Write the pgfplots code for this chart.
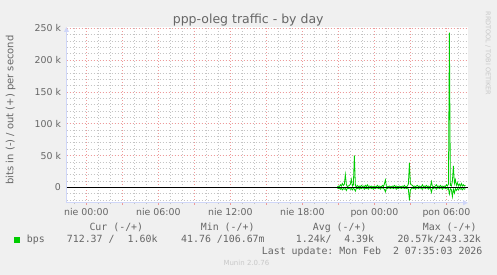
\documentclass[border=0pt]{standalone}
\usepackage{fontspec}
\setmainfont{DejaVu Sans}
\setmonofont{DejaVu Sans Mono}
\usepackage{pgfplots}
\usepackage{pgfplotstable}
\pgfplotsset{compat=1.18}
\usetikzlibrary{arrows.meta}
\definecolor{bg}{HTML}{F0F0F0}
\definecolor{fontc}{HTML}{666666}
\definecolor{axc}{HTML}{CFD6F8}
\definecolor{mgrid}{HTML}{EE9A9A}
\definecolor{gridc}{HTML}{C4C4C4}
\definecolor{munin}{HTML}{00CC00}
\definecolor{rrdc}{HTML}{C8C8C8}

% t (hours since Sunday 00:00), out (k bit/s), in (k bit/s, drawn negative)
\pgfplotstableread{
t out in
20.92 0.5 -1
21.00 2 -2
21.08 1 -1
21.17 4 -3
21.25 2 -1
21.33 6 -4
21.42 3 -2
21.50 5 -3
21.58 20 -2
21.67 4 -5
21.75 1 -1
21.83 2 -2
21.92 3 -1
22.00 5 -3
22.08 12.5 -2
22.17 2 -4
22.25 4 -1
22.33 50 -3
22.42 2 -6
22.50 1 -1
22.58 3 -2
22.67 1 -1
22.75 2 -3
22.83 1 -1
22.92 3 -2
23.00 1 -1
23.08 2 -1
23.17 1 -3
23.25 3 -1
23.33 1 -2
23.42 4 -1
23.50 1 -3
23.58 2 -1
23.67 1 -1
23.75 2 -2
23.83 1 -1
23.92 1 -3
24.00 2 -1
24.08 1 -2
24.17 1 -1
24.25 3 -1
24.33 1 -2
24.42 2 -1
24.50 1 -3
24.58 1 -1
24.67 3 -1
24.75 1 -2
24.83 5 -3
24.92 11.5 -7
25.00 2 -1
25.08 1 -2
25.17 1 -1
25.25 2 -1
25.33 1 -2
25.42 1 -1
25.50 2 -1
25.58 1 -2
25.67 3 -1
25.75 1 -1
25.83 2 -3
25.92 1 -1
26.00 1 -2
26.08 2 -1
26.17 1 -1
26.25 1 -2
26.33 2 -1
26.42 1 -1
26.50 3 -2
26.58 1 -1
26.67 1 -2
26.75 2 -1
26.83 5 -3
26.92 38.5 -20.5
27.00 6 -4
27.08 4 -2
27.17 3 -1
27.25 1 -2
27.33 2 -1
27.42 1 -3
27.50 2 -1
27.58 3 -1
27.67 1 -2
27.75 2 -1
27.83 1 -1
27.92 1 -2
28.00 4 -3
28.08 1 -1
28.17 2 -1
28.25 1 -2
28.33 3 -1
28.42 1 -1
28.50 2 -3
28.58 1 -1
28.67 1 -2
28.75 9 -8
28.83 2 -1
28.92 1 -2
29.00 1 -1
29.08 2 -1
29.17 4 -3
29.25 1 -1
29.33 2 -1
29.42 1 -2
29.50 3 -1
29.58 1 -1
29.67 2 -3
29.75 1 -1
29.83 2 -1
29.92 1 -2
30.00 4 -1
30.08 2 -3
30.17 5 -2
30.25 243.3 -10.5
30.33 3 -2
30.42 2 -4
30.50 10 -14.7
30.58 33.5 -3
30.67 6 -9
30.75 12 -2
30.83 3 -5
30.92 7 -2
31.00 2 -4
31.08 5 -1
31.17 2 -3
31.25 6 -2
31.33 2 -4
31.42 4 -1
31.50 2 -3
31.58 3 -2
}\traffic

\begin{document}
\begin{tikzpicture}[x=1pt,y=1pt]
\fill[bg] (0,0) rectangle (497,275);
\useasboundingbox (0,0) rectangle (497,275);
\begin{axis}[
  at={(66.5pt,72.3pt)}, anchor=south west,
  scale only axis, width=401.5pt, height=175.7pt,
  xmin=-1.65, xmax=31.8, ymin=-24.2, ymax=252,
  axis x line=bottom, axis y line=left,
  axis line style={draw=axc, line width=0.9pt, -{Triangle[length=5pt,width=5pt]}},
  axis background/.style={fill=white},
  xtick={0,3,...,30},
  xticklabels={nie 00:00,,nie 06:00,,nie 12:00,,nie 18:00,,pon 00:00,,pon 06:00},
  minor xtick={-1,0,...,31},
  ytick={0,50,...,250},
  yticklabels={0\hspace{4pt},50 k,100 k,150 k,200 k,250 k},
  minor ytick={-20,-10,...,250},
  grid=both,
  major grid style={draw=mgrid, dash pattern=on 1pt off 2pt, line width=0.55pt},
  minor grid style={draw=gridc, dash pattern=on 1pt off 2pt, line width=0.55pt},
  major tick length=2pt, minor tick length=1.5pt, tick align=outside,
  major tick style={draw=mgrid, line width=0.6pt},
  minor tick style={draw=gridc, line width=0.6pt},
  ytick style={draw=none},
  ticklabel style={font=\fontsize{9.4}{11}\selectfont, text=fontc},
  /pgf/number format/assume math mode=true,
]
\addplot[munin, line width=0.8pt] table[x=t, y=out] {\traffic};
\addplot[munin, line width=0.8pt] table[x=t, y=in] {\traffic};
\addplot[black, line width=0.9pt] coordinates {(-1.65,0) (31.8,0)};
\end{axis}
\node[font=\fontsize{12.5}{14}\selectfont, text=fontc, anchor=base] at (248.2,251) {ppp-oleg traffic - by day};
\node[rotate=90, font=\fontsize{10}{12}\selectfont, text=fontc] at (10.5,165) {bits in (-) / out (+) per second};
\node[rotate=-90, font=\fontsize{6.5}{8}\selectfont, text=rrdc] at (488,221.5) {RRDTOOL / TOBI OETIKER};
\fill[munin] (14,32.3) rectangle (20,37.7);
\begin{scope}[every node/.style={font=\ttfamily\fontsize{9.9}{11}\selectfont, text=fontc, inner sep=0pt}]
\node[anchor=base west] at (89.3,44.3) {Cur (-/+)};
\node[anchor=base west] at (200.7,44.3) {Min (-/+)};
\node[anchor=base west] at (312.7,44.3) {Avg (-/+)};
\node[anchor=base west] at (422.7,44.3) {Max (-/+)};
\node[anchor=base west] at (26.7,32.3) {bps};
\node[anchor=base west] at (66.7,32.3) {712.37 /};
\node[anchor=base east] at (157.7,32.3) {1.60k};
\node[anchor=base west] at (181,32.3) {41.76 /106.67m};
\node[anchor=base west] at (295.7,32.3) {1.24k/};
\node[anchor=base east] at (374.3,32.3) {4.39k};
\node[anchor=base west] at (397.3,32.3) {20.57k/243.32k};
\node[anchor=base west] at (261.7,20.7) {Last update:\ Mon Feb\ \ 2 07:35:03 2026};
\end{scope}
\node[anchor=base west, inner sep=0pt, font=\fontsize{7}{8}\selectfont, text=rrdc] at (223.3,9) {Munin 2.0.76};
\end{tikzpicture}
\end{document}
